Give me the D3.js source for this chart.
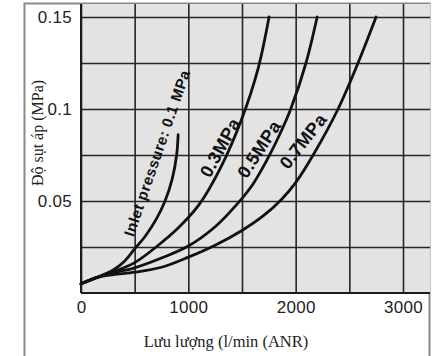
<!DOCTYPE html>
<html><head><meta charset="utf-8">
<script src="https://cdn.jsdelivr.net/npm/d3@7"></script>
<style>html,body{margin:0;padding:0;background:#fff;}svg{display:block;}</style>
</head><body>
<svg id="c" width="435" height="356"></svg>
<script>
// ---- data ----
const xTicks = [0, 1000, 2000, 3000];
const yTicks = [0.05, 0.1, 0.15];
const yTickLabels = ["0.05", "0.1", "0.15"];
const xGrid = [0, 500, 1000, 1500, 2000, 2500, 3000];
const yGrid = [0.025, 0.05, 0.075, 0.1, 0.125, 0.15];

const flow01 = [0, 150, 300, 400, 500, 600, 700, 783, 850, 891, 905];
const drop01 = [0.005, 0.0085, 0.0125, 0.017, 0.024, 0.031, 0.040, 0.050, 0.062, 0.075, 0.086];
const flow03 = [0, 150, 300, 500, 700, 900, 1100, 1300, 1500, 1650, 1752];
const drop03 = [0.005, 0.0085, 0.0115, 0.0165, 0.025, 0.035, 0.048, 0.068, 0.095, 0.122, 0.15];
const flow05 = [0, 150, 300, 500, 750, 1000, 1250, 1450, 1600, 1730, 1850, 1954, 2096, 2200];
const drop05 = [0.005, 0.0085, 0.011, 0.0137, 0.019, 0.0255, 0.036, 0.048, 0.059, 0.072, 0.086, 0.1, 0.125, 0.15];
const flow07 = [0, 150, 300, 500, 750, 1000, 1250, 1500, 1700, 1870, 2000, 2163, 2395, 2581, 2749];
const drop07 = [0.005, 0.0085, 0.010, 0.0113, 0.014, 0.0195, 0.026, 0.034, 0.042, 0.051, 0.060, 0.075, 0.1, 0.125, 0.15];

const seriesLabels = ["Inlet pressure: 0.1 MPa", "0.3MPa", "0.5MPa", "0.7MPa"];
const xTitle = "Lưu lượng (l/min (ANR)";
const yTitle = "Độ sụt áp (MPa)";

// ---- layout ----
const svg = d3.select("#c");
const plotL = 81, plotR = 430, plotT = 4, plotB = 293;
const x = d3.scaleLinear().domain([0, 3000]).range([81, 403]);
const y = d3.scaleLinear().domain([0, 0.15]).range([293, 17]);

// outer frame
svg.append("path").attr("d", `M24.5,356 V3.5 H429.5 V356`)
  .attr("fill", "none").attr("stroke", "#8a8a8a").attr("stroke-width", 2);

// plot background
svg.append("rect").attr("x", plotL).attr("y", plotT).attr("width", plotR - plotL).attr("height", plotB - plotT)
  .attr("fill", "#e3e3e3");

// grid
const gx = svg.append("g").attr("transform", `translate(0,${plotB})`)
  .call(d3.axisBottom(x).tickValues(xGrid).tickSize(-(plotB - plotT)).tickFormat(""));
gx.select(".domain").remove();
gx.selectAll("line").attr("stroke", "#262626").attr("stroke-width", 1.6);

const gy = svg.append("g").attr("transform", `translate(${plotL},0)`)
  .call(d3.axisLeft(y).tickValues(yGrid).tickSize(-(plotR - plotL)).tickFormat(""));
gy.select(".domain").remove();
gy.selectAll("line").attr("stroke", "#262626").attr("stroke-width", 1.6);

// axis lines
svg.append("line").attr("x1", plotL).attr("x2", plotR).attr("y1", plotB).attr("y2", plotB)
  .attr("stroke", "#1a1a1a").attr("stroke-width", 2);
svg.append("line").attr("x1", plotL).attr("x2", plotL).attr("y1", plotT).attr("y2", plotB)
  .attr("stroke", "#1a1a1a").attr("stroke-width", 2);

// tick labels
const ax = svg.append("g").attr("transform", `translate(0,${plotB})`)
  .call(d3.axisBottom(x).tickValues(xTicks).tickSize(0).tickPadding(8).tickFormat(d3.format("d")));
ax.select(".domain").remove();
ax.selectAll("text").attr("font-family", "Liberation Sans, Arial, sans-serif").attr("font-size", 17)
  .attr("fill", "#222").attr("letter-spacing", "0.3px");

const ay = svg.append("g").attr("transform", `translate(${plotL},0)`)
  .call(d3.axisLeft(y).tickValues(yTicks).tickSize(0).tickPadding(9).tickFormat((d, i) => yTickLabels[i]));
ay.select(".domain").remove();
ay.selectAll("text").attr("font-family", "Liberation Sans, Arial, sans-serif").attr("font-size", 17)
  .attr("fill", "#222").attr("letter-spacing", "0.3px");

// curves
const line = d3.line().x(d => x(d[0])).y(d => y(d[1])).curve(d3.curveCatmullRom.alpha(0.5));
const series = [[flow01, drop01], [flow03, drop03], [flow05, drop05], [flow07, drop07]];
series.forEach(([f, p]) => {
  svg.append("path").datum(d3.zip(f, p)).attr("d", line)
    .attr("fill", "none").attr("stroke", "#111").attr("stroke-width", 2.8).attr("stroke-linecap", "round");
});

// curve labels
const labelPos = [
  {cx: 157, cy: 153, a: -71, fs: 15, ls: 0.5},
  {cx: 220, cy: 147.5, a: -61, fs: 18, ls: 0.4},
  {cx: 259, cy: 149, a: -57, fs: 18, ls: 0.4},
  {cx: 303, cy: 141, a: -52, fs: 18, ls: 0.4}
];
seriesLabels.forEach((t, i) => {
  const p = labelPos[i];
  svg.append("text").attr("transform", `translate(${p.cx},${p.cy}) rotate(${p.a})`)
    .attr("text-anchor", "middle").attr("dy", "0.35em")
    .attr("font-family", "Liberation Sans, Arial, sans-serif").attr("font-weight", "bold")
    .attr("letter-spacing", p.ls + "px")
    .attr("font-size", p.fs).attr("fill", "#111").text(t);
});

// axis titles
svg.append("text").attr("x", 226).attr("y", 347).attr("text-anchor", "middle")
  .attr("font-family", "Liberation Serif, Times New Roman, serif").attr("font-size", 16.5).attr("fill", "#222")
  .text(xTitle);
svg.append("text").attr("transform", "translate(37,133) rotate(-90)").attr("text-anchor", "middle")
  .attr("dy", "0.35em")
  .attr("font-family", "Liberation Serif, Times New Roman, serif").attr("font-size", 16).attr("fill", "#222")
  .text(yTitle);
</script>
</body></html>
